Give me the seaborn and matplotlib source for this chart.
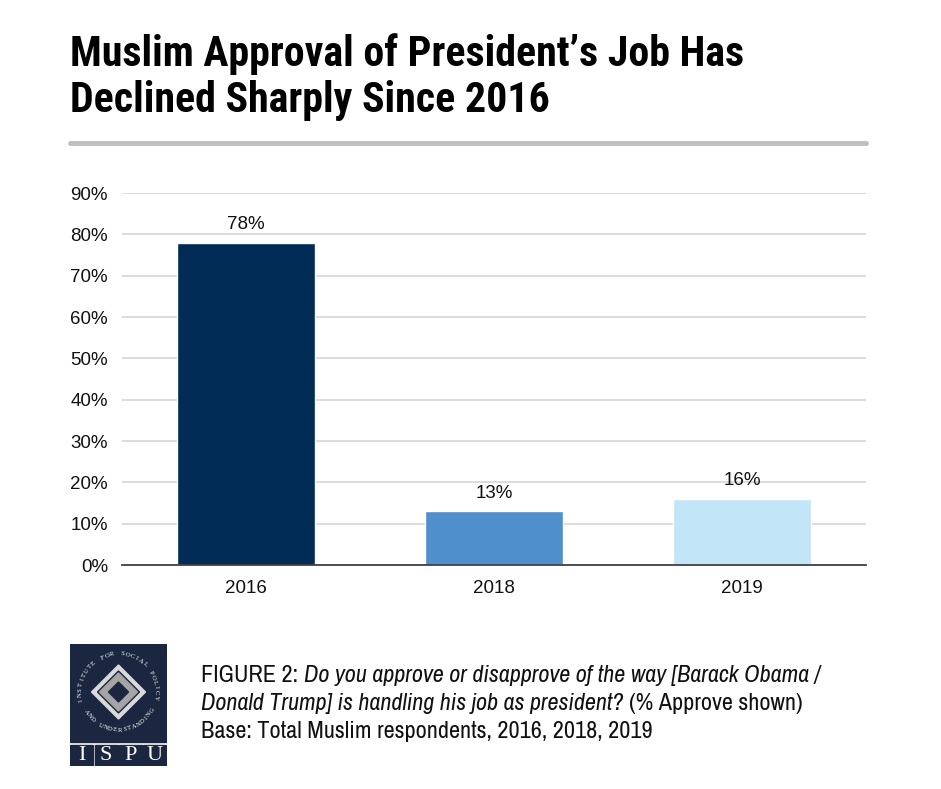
import numpy as np
import pandas as pd
import seaborn as sns
import matplotlib.pyplot as plt
from matplotlib.patches import Rectangle, Polygon

years = ['2016', '2018', '2019']
approve = [78, 13, 16]
bar_colors = ['#002B55', '#4F8FCB', '#C3E5F8']
yticks = [0, 10, 20, 30, 40, 50, 60, 70, 80, 90]

title_lines = ["Muslim Approval of President\u2019s Job Has", "Declined Sharply Since 2016"]
caption = [
    [('FIGURE 2: ', 'normal'), ('Do you approve or disapprove of the way [Barack Obama /', 'italic')],
    [('Donald Trump] is handling his job as president? ', 'italic'), ('(% Approve shown)', 'normal')],
    [('Base: Total Muslim respondents, 2016, 2018, 2019', 'normal')],
]
ring_top = "INSTITUTE FOR SOCIAL POLICY"
ring_bottom = "AND UNDERSTANDING"

sns.set_theme(style='white')
plt.rcParams['font.family'] = ['Liberation Sans', 'DejaVu Sans']
title_font = ['Roboto Condensed', 'DejaVu Sans']
cap_font = ['Archivo Narrow', 'Roboto Condensed', 'DejaVu Sans']
serif = ['Liberation Serif', 'DejaVu Serif']

df = pd.DataFrame({'year': years, 'approve': approve})

W, H = 941, 789
fig = plt.figure(figsize=(W / 100, H / 100), dpi=100)
fig.patch.set_facecolor('white')
renderer = fig.canvas.get_renderer()


def fit_size(text, target_px, **kw):
    t = fig.text(0, 0, text, fontsize=20, **kw)
    w = t.get_window_extent(renderer).width
    t.remove()
    return 20 * target_px / w


# main chart
ax = fig.add_axes([122 / W, 1 - 565 / H, (866 - 122) / W, (565 - 193) / H])
sns.barplot(data=df, x='year', y='approve', hue='year', palette=bar_colors,
            width=0.56, legend=False, ax=ax, saturation=1)
ax.set_xlim(-0.5, 2.5)
ax.set_ylim(0, 90)
ax.set_yticks(yticks)
ax.set_yticklabels([f'{t}%' for t in yticks], fontsize=13.5, color='#111111')
ax.tick_params(axis='x', labelsize=13.5, colors='#111111', pad=11, length=0)
ax.tick_params(axis='y', length=0, pad=10)
ax.set_xlabel('')
ax.set_ylabel('')
ax.yaxis.grid(True, color='#D9D9D9', linewidth=1.3)
ax.set_axisbelow(True)
for s in ['top', 'right', 'left']:
    ax.spines[s].set_visible(False)
ax.spines['bottom'].set_color('#404040')
ax.spines['bottom'].set_linewidth(1.3)
for p, v in zip(ax.patches, approve):
    ax.annotate(f'{v}%', (p.get_x() + p.get_width() / 2, p.get_height()),
                xytext=(0, 7), textcoords='offset points', ha='center', va='bottom',
                fontsize=13.5, color='#111111')

# title and separator
tsize = fit_size(title_lines[0], 673, family=title_font, fontweight='bold')
for i, line in enumerate(title_lines):
    fig.text(70 / W, 1 - (66 + i * 46) / H, line, fontsize=tsize, fontweight='bold',
             family=title_font, va='baseline', ha='left', color='black')
fig.add_artist(plt.Line2D([70 / W, 866 / W], [1 - 143 / H, 1 - 143 / H],
                          color='#BFBFBF', linewidth=3.5))

# caption, pieces placed one after another
csize = fit_size(''.join(t for t, _ in caption[0]), 621, family=cap_font)
for i, line in enumerate(caption):
    x = 201
    for txt, st in line:
        t = fig.text(x / W, 1 - (682 + i * 28) / H, txt, fontsize=csize, family=cap_font,
                     style=st, va='baseline', ha='left', color='#111111')
        x += t.get_window_extent(renderer).width

# logo
lg = fig.add_axes([70 / W, 1 - 766 / H, 97 / W, 122 / H])
lg.set_xlim(0, 97)
lg.set_ylim(0, 122)
lg.axis('off')
navy = '#1B2740'
lg.add_patch(Rectangle((0, 24), 97, 98, color=navy))
for i, ch in enumerate('ISPU'):
    lg.add_patch(Rectangle((i * 24.5, 0), 23, 21.5, color=navy))
    lg.text(i * 24.5 + 11.5, 10.5, ch, color='white', ha='center', va='center',
            fontsize=16, family=serif)
cxl, cyl = 48.5, 74
for r, c in [(27, '#DADADA'), (21, navy), (19, '#A5A5A5'), (10, navy)]:
    lg.add_patch(Polygon([(cxl - r, cyl), (cxl, cyl + r), (cxl + r, cyl), (cxl, cyl - r)],
                         closed=True, color=c))
ring_r = 38
for ch, a in zip(ring_top, np.linspace(192, -8, len(ring_top))):
    t = np.deg2rad(a)
    lg.text(cxl + ring_r * np.cos(t), cyl + ring_r * np.sin(t), ch, color='white',
            fontsize=4.8, rotation=a - 90, ha='center', va='center', family=serif)
for ch, a in zip(ring_bottom, np.linspace(212, 332, len(ring_bottom))):
    t = np.deg2rad(a)
    lg.text(cxl + ring_r * np.cos(t), cyl + ring_r * np.sin(t), ch, color='white',
            fontsize=4.8, rotation=a + 90, ha='center', va='center', family=serif)

fig.savefig('out.png', dpi=100, facecolor='white')
